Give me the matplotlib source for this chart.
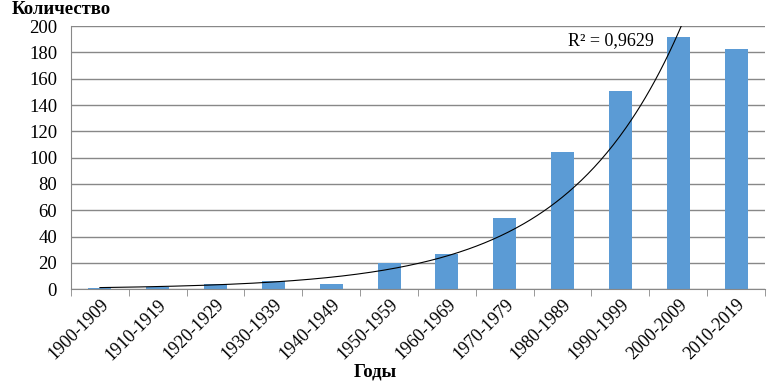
import numpy as np
import matplotlib.pyplot as plt

decades = ["1900-1909", "1910-1919", "1920-1929", "1930-1939", "1940-1949", "1950-1959",
           "1960-1969", "1970-1979", "1980-1989", "1990-1999", "2000-2009", "2010-2019"]
counts = [1, 2, 4, 6, 4, 20, 27, 54, 104, 151, 192, 183]

plt.rcParams['font.family'] = ['Liberation Serif', 'DejaVu Serif']

fig = plt.figure(figsize=(7.7, 3.85), dpi=100)
ax = fig.add_axes([0.0922, 0.249, 0.9013, 0.683])

x = np.arange(len(counts))
ax.bar(x, counts, width=0.4, color="#5B9BD5", zorder=2)

# exponential trendline (Excel style, fit in log space, x = 1..n)
xn = x + 1
b, lna = np.polyfit(xn, np.log(counts), 1)
xs = np.linspace(1, len(counts), 400)
ax.plot(xs - 1, np.exp(lna) * np.exp(b * xs), color="black", lw=0.8, zorder=3)

ax.text(8.1, 189, "R² = 0,9629", fontsize=13, va="center", ha="left")

ax.set_xlim(-0.5, len(counts) - 0.5)
ax.set_ylim(0, 200)
ax.set_yticks(range(0, 201, 20))
ax.tick_params(axis='y', labelsize=13.5, length=0, pad=10)
ax.yaxis.grid(True, color="#888888", lw=1, zorder=0)
ax.set_axisbelow(True)

ax.set_xticks(x)
ax.set_xticklabels(decades, rotation=45, ha="right", rotation_mode="anchor", fontsize=13)
ax.tick_params(axis='x', length=0, pad=5)
ax.set_xticks(np.arange(-0.5, len(counts), 1), minor=True)
ax.tick_params(axis='x', which='minor', length=5, color="#888888")

for s in ["top", "right"]:
    ax.spines[s].set_visible(False)
ax.spines["left"].set_color("#888888")
ax.spines["bottom"].set_color("#888888")

fig.text(0.015, 0.975, "Количество", fontsize=13.5, fontweight="bold", va="center", ha="left")
fig.text(0.487, 0.035, "Годы", fontsize=13.5, fontweight="bold", va="center", ha="center")

fig.savefig("out.png", dpi=100)
